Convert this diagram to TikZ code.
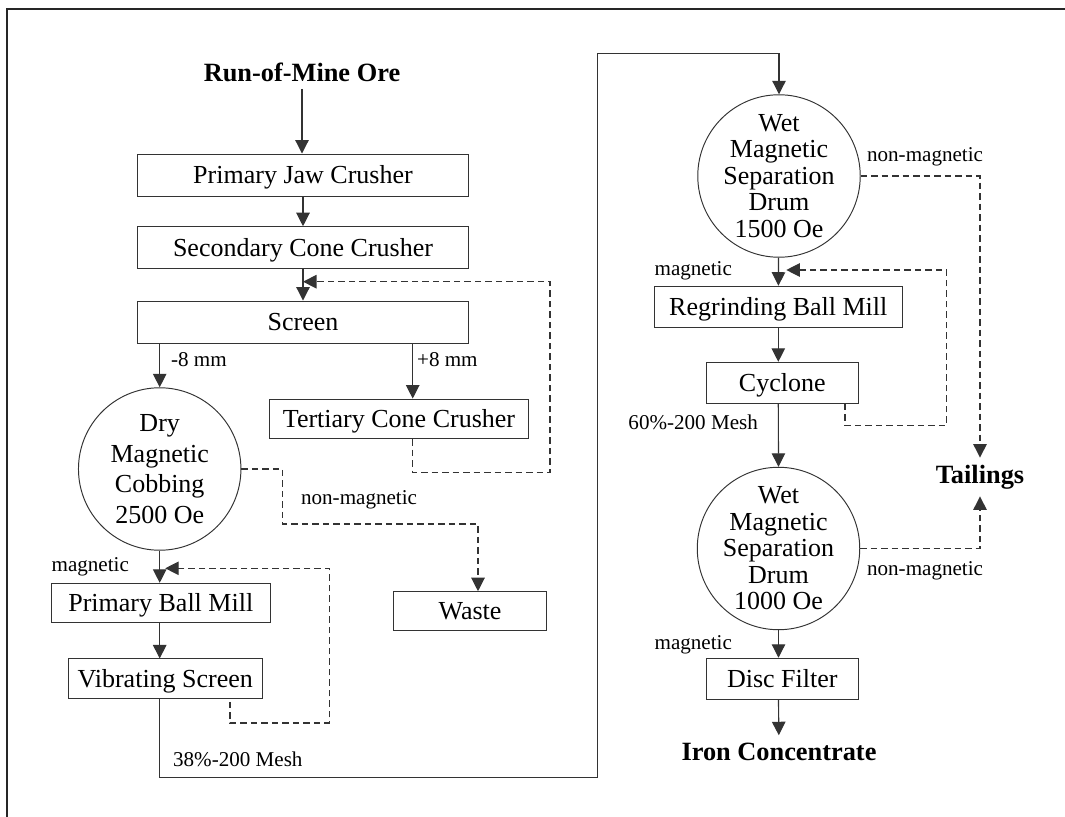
\documentclass[tikz,border=0pt]{standalone}
\usepackage{fontspec}
\setmainfont{Liberation Serif}
\usetikzlibrary{arrows.meta}

\begin{document}
\begin{tikzpicture}[x=0.02cm, y=-0.02cm,
  box/.style={rectangle, draw=black!80, line width=0.55pt, minimum height=0.82cm, inner sep=0pt, text height=9.8pt, text depth=0pt, font=\fontsize{14.8}{15}\selectfont},
  drum/.style={circle, draw=black!80, line width=0.55pt, minimum size=3.25cm, inner sep=-4pt, align=center, font=\fontsize{14.8}{15.1}\selectfont},
  feed/.style={font=\bfseries\fontsize{15}{16}\selectfont, inner sep=4pt},
  lbl/.style={font=\fontsize{12}{13}\selectfont, inner sep=1pt},
  flow/.style={-{Triangle[length=0.27cm,width=0.27cm]}, line width=0.65pt, draw=black!80},
  recycle/.style={flow, dash pattern=on 0.13cm off 0.08cm}]
\useasboundingbox (0,0) rectangle (1065,817);
\draw[line width=1.1pt, black!85] (7,817) -- (7,9) -- (1065,9);

% crushing and dry cobbing
\node[feed] (ore) at (302,72) {Run-of-Mine Ore};
\node[box, minimum width=6.64cm, minimum height=0.84cm] (jaw) at (303,175) {Primary Jaw Crusher};
\node[box, minimum width=6.64cm, minimum height=0.84cm] (sec) at (303,247.7) {Secondary Cone Crusher};
\node[box, minimum width=6.64cm, minimum height=0.84cm] (scr) at (303,322) {Screen};
\node[box, minimum width=5.2cm, minimum height=0.79cm] (ter) at (399,418.8) {Tertiary Cone Crusher};
\node[drum, font=\fontsize{14.8}{17.4}\selectfont] (dry) at (159.7,469) {Dry\\Magnetic\\Cobbing\\2500 Oe};
\node[box, minimum width=3.07cm, minimum height=0.78cm] (waste) at (470,611.2) {Waste};
\node[box, minimum width=4.39cm, minimum height=0.78cm] (pbm) at (160.8,602.8) {Primary Ball Mill};
\node[box, minimum width=3.88cm, minimum height=0.79cm] (vib) at (165.3,678.7) {Vibrating Screen};

% wet separation
\node[drum] (wet1) at (779,176) {Wet\\Magnetic\\Separation\\Drum\\1500 Oe};
\node[box, minimum width=4.96cm] (regr) at (778.3,306.7) {Regrinding Ball Mill};
\node[box, minimum width=3.04cm] (cyc) at (782.3,382.8) {Cyclone};
\node[drum] (wet2) at (778.5,548.5) {Wet\\Magnetic\\Separation\\Drum\\1000 Oe};
\node[box, minimum width=3.04cm, minimum height=0.83cm] (disc) at (782.3,679) {Disc Filter};
\node[feed] (iron) at (779,751.5) {Iron Concentrate};
\node[feed] (tail) at (980,477) {Tailings};

% turning points
\coordinate (tx) at (412.7,0);
\coordinate (tback) at (550,281.7);
\coordinate (wx) at (478,0);
\coordinate (vx) at (230,0);
\coordinate (pin) at (329.3,568.3);
\coordinate (lowturn) at (597.3,777.3);
\coordinate (topturn) at (597.3,53.3);
\coordinate (cx) at (845,0);
\coordinate (rback) at (946.7,270);

\draw[flow] (ore) -- (ore |- jaw.north);
\draw[flow] (jaw) -- (sec);
\draw[flow] (sec) -- (scr);
\draw[flow] (scr.south -| dry.north) -- (dry.north);
\node[lbl, anchor=west] at (169,360) {-8 mm};
\draw[flow] (scr.south -| tx) -- (ter.north -| tx);
\node[lbl, anchor=west] at (415,360) {+8 mm};
\draw[recycle] (ter.south -| tx) -- ++(0,33.5) -| (tback) -- (tback -| sec.south);

\draw[recycle] (dry.east) -- ++(41,0) -- ++(0,55) -| (waste.north -| wx);
\node[lbl, anchor=west] at (299,500) {non-magnetic};
\draw[flow] (dry.south) -- (dry.south |- pbm.north);
\node[lbl, anchor=east] at (131,566.7) {magnetic};
\draw[flow] (pbm.south -| dry.south) -- (vib.north -| dry.south);
\draw[recycle, shorten >=0.11cm] ([yshift=-0.06cm]vib.south -| vx) -- ++(0,21) -| (pin) -- (pin -| dry.south);
\draw[flow] (vib.south -| dry.south) |- (lowturn) -- (topturn) -| (wet1.north);
\node[lbl, anchor=west] at (171,759.3) {38\%-200 Mesh};

\draw[recycle] (wet1.east) -| (tail.north);
\node[lbl, anchor=west] at (865,156.7) {non-magnetic};
\draw[flow] (wet1) -- (regr);
\node[lbl, anchor=east] at (734,270.7) {magnetic};
\draw[flow] (regr.south) -- (regr.south |- cyc.north);
\draw[recycle, shorten >=0.16cm] (cyc.south -| cx) -- ++(0,21.7) -| (rback) -- (rback -| regr.north);
\draw[flow] (regr.south |- cyc.south) -- (wet2.north);
\node[lbl, anchor=east] at (760,422.3) {60\%-200 Mesh};
\draw[recycle] (wet2.east) -| (tail.south);
\node[lbl, anchor=west] at (865,570.7) {non-magnetic};
\draw[flow] (wet2.south) -- (wet2.south |- disc.north);
\node[lbl, anchor=east] at (734,644.3) {magnetic};
\draw[flow] (wet2.south |- disc.south) -- (iron);
\end{tikzpicture}
\end{document}
